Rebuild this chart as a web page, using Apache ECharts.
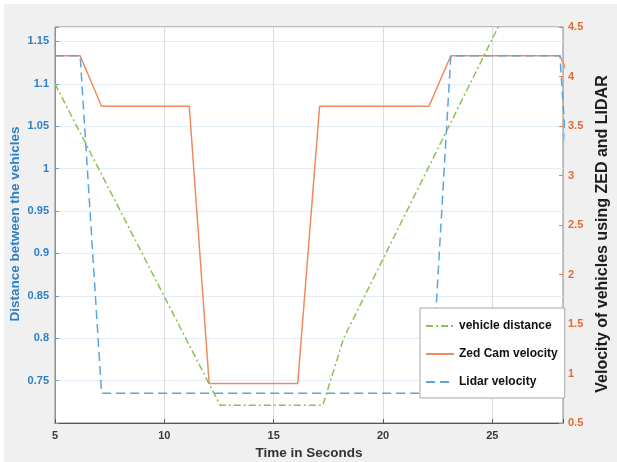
<!DOCTYPE html>
<html>
<head>
<meta charset="utf-8">
<script src="https://cdn.jsdelivr.net/npm/echarts@6/dist/echarts.min.js"></script>
<style>
html,body{margin:0;padding:0;background:#ffffff;width:617px;height:462px;overflow:hidden;}
#chart{position:absolute;left:4px;top:4px;width:613px;height:458px;}
</style>
</head>
<body>
<div id="chart"></div>
<script>
// ---- data ----
const xTicks = [5, 10, 15, 20, 25];
const leftTicks = [0.75, 0.8, 0.85, 0.9, 0.95, 1, 1.05, 1.1, 1.15];
const rightTicks = [0.5, 1, 1.5, 2, 2.5, 3, 3.5, 4, 4.5];

const distTime   = [5, 12.55, 17.25, 18.2, 26];
const distValue  = [1.1, 0.721, 0.721, 0.80, 1.205];

const zedTime    = [5, 6.15, 7.13, 11.14, 12.05, 16.1, 17.1, 22.1, 23.1, 28.09, 29.1];
const zedValue   = [4.21, 4.21, 3.7, 3.7, 0.9, 0.9, 3.7, 3.7, 4.21, 4.21, 3.7];

const lidarTime  = [5, 6.15, 7.13, 22.2, 23.1, 28.09, 29.1];
const lidarValue = [4.21, 4.21, 0.8, 0.8, 4.21, 4.21, 0.8];

const seriesNames = ['vehicle distance', 'Zed Cam velocity', 'Lidar velocity'];

function pairs(t, v) { return t.map((x, i) => [x, v[i]]); }

const FONT = "'Liberation Sans', Arial, Helvetica, sans-serif";
const BLUE_TXT = '#2d7fc6';
const ORANGE_TXT = '#e36b2f';

const chart = echarts.init(document.getElementById('chart'), null, {renderer: 'canvas'});
chart.setOption({
  animation: false,
  backgroundColor: '#f0f0f0',
  grid: {
    left: 51, right: 54, top: 23, bottom: 39,
    show: true, backgroundColor: '#ffffff', borderColor: '#8a8a8a', borderWidth: 1,
    containLabel: false, outerBoundsMode: 'none'
  },
  xAxis: {
    type: 'value', min: 5, max: 28.23, interval: 5,
    axisLine: {show: true, onZero: false, lineStyle: {color: '#555555', width: 1}},
    axisTick: {show: true, inside: true, length: 4, lineStyle: {color: '#555555'}},
    splitLine: {show: true, lineStyle: {color: '#dcdcdc', width: 1}},
    axisLabel: {
      color: '#3a3a3a', fontFamily: FONT, fontWeight: 'bold', fontSize: 11, margin: 7,
      formatter: v => xTicks.some(t => Math.abs(t - v) < 1e-6) ? String(v) : ''
    }
  },
  yAxis: [
    {
      type: 'value', position: 'left', min: 0.70, max: 1.167, interval: 0.05,
      axisLine: {show: true, onZero: false, lineStyle: {color: '#5a9fd8', width: 1}},
      axisTick: {show: true, inside: true, length: 4, lineStyle: {color: '#5a9fd8'}},
      splitLine: {show: true, lineStyle: {color: '#e3edf7', width: 1}},
      axisLabel: {
        color: BLUE_TXT, fontFamily: FONT, fontWeight: 'bold', fontSize: 11, margin: 6,
        formatter: v => {
          const m = leftTicks.find(t => Math.abs(t - v) < 1e-6);
          return m === undefined ? '' : String(m);
        }
      }
    },
    {
      type: 'value', position: 'right', min: 0.5, max: 4.5, interval: 0.5,
      axisLine: {show: true, onZero: false, lineStyle: {color: '#f2a37f', width: 1}},
      axisTick: {show: true, inside: true, length: 4, lineStyle: {color: '#e8814f'}},
      splitLine: {show: false},
      axisLabel: {
        color: ORANGE_TXT, fontFamily: FONT, fontWeight: 'bold', fontSize: 11, margin: 5,
        formatter: v => {
          const m = rightTicks.find(t => Math.abs(t - v) < 1e-6);
          return m === undefined ? '' : String(m);
        }
      }
    }
  ],
  legend: {
    orient: 'vertical', left: 416, top: 304,
    data: seriesNames,
    backgroundColor: '#ffffff', borderColor: '#a8a8a8', borderWidth: 1,
    padding: [12, 7, 10, 5], itemGap: 16, itemWidth: 28, itemHeight: 14,
    itemStyle: {opacity: 0},
    textStyle: {color: '#111111', fontFamily: FONT, fontWeight: 'bold', fontSize: 12}
  },
  series: [
    {
      name: seriesNames[1], type: 'line', yAxisIndex: 1, data: pairs(zedTime, zedValue),
      symbol: 'none', showSymbol: false, clip: true, z: 2,
      lineStyle: {color: '#f08a60', width: 1.5, type: 'solid'},
      itemStyle: {color: '#f08a60'}
    },
    {
      name: seriesNames[2], type: 'line', yAxisIndex: 1, data: pairs(lidarTime, lidarValue),
      symbol: 'none', showSymbol: false, clip: true, z: 3,
      lineStyle: {color: '#5aa5de', width: 1.5, type: [9, 5]},
      itemStyle: {color: '#5aa5de'}
    },
    {
      name: seriesNames[0], type: 'line', yAxisIndex: 0, data: pairs(distTime, distValue),
      symbol: 'none', showSymbol: false, clip: true, z: 4,
      lineStyle: {color: '#8dc04f', width: 1.5, type: [7, 3, 2, 3]},
      itemStyle: {color: '#8dc04f'}
    }
  ],
  graphic: [
    {
      type: 'text', x: 11, y: 220, rotation: Math.PI / 2,
      style: {text: 'Distance between the vehicles', fill: BLUE_TXT,
        font: "bold 13.5px 'Liberation Sans', Arial, sans-serif", align: 'center', verticalAlign: 'middle'}
    },
    {
      type: 'text', x: 598.5, y: 230, rotation: Math.PI / 2,
      style: {text: 'Velocity of vehicles using ZED and LIDAR', fill: '#1e1e1e',
        font: "bold 16px 'Liberation Sans', Arial, sans-serif", align: 'center', verticalAlign: 'middle'}
    },
    {
      type: 'text', x: 305, y: 449,
      style: {text: 'Time in Seconds', fill: '#333333',
        font: "bold 13.5px 'Liberation Sans', Arial, sans-serif", align: 'center', verticalAlign: 'middle'}
    }
  ]
});
</script>
</body>
</html>
